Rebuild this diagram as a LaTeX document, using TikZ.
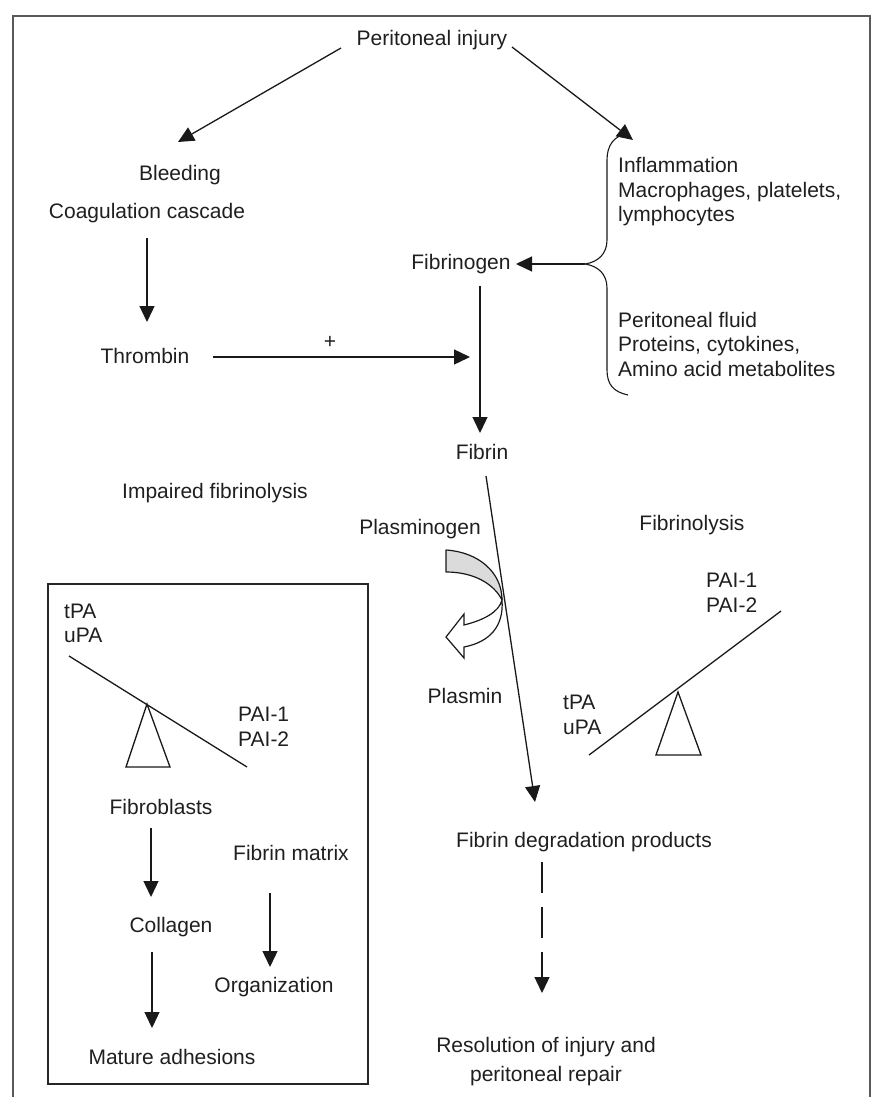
\documentclass[tikz,border=0pt]{standalone}
\usepackage{fontspec}
\setmainfont{Liberation Sans}
\usetikzlibrary{arrows.meta}
\begin{document}
\begin{tikzpicture}[x=1pt,y=-1pt,
  txt/.style={font=\fontsize{21}{24.5}\selectfont, text=black!88, inner sep=0pt},
  arr/.style={-{Triangle[length=16pt,width=15pt]}, line width=1.3pt, draw=black!90},
  thin line/.style={line width=1.3pt, draw=black!90},
  frame/.style={line width=1.6pt, draw=black!65}]
\useasboundingbox (0,0) rectangle (878,1097);
% outer frame (open at the bottom)
\draw[frame] (13,1097) -- (13,16) -- (870,16) -- (870,1097);
% left box
\draw[line width=1.2pt, draw=black!85] (48,584) rectangle (368,1084);

% ---- text nodes ----
\node[txt] (inj) at (432,40) {Peritoneal injury};
\node[txt] (bleed) at (180,175) {Bleeding};
\node[txt] (coag) at (147,213) {Coagulation cascade};
\node[txt] (thr) at (145,356) {Thrombin};
\node[txt] (plus) at (330,342) {+};
\node[txt] (fgen) at (461,264) {Fibrinogen};
\node[txt] (fib) at (482,452) {Fibrin};
\node[txt,anchor=west,align=left] (infl) at (618,192) {Inflammation\\Macrophages, platelets,\\lymphocytes};
\node[txt,anchor=west,align=left] (fluid) at (618,344) {Peritoneal fluid\\Proteins, cytokines,\\Amino acid metabolites};
\node[txt] (impf) at (215,493) {Impaired fibrinolysis};
\node[txt] (plg) at (420,529) {Plasminogen};
\node[txt] (plm) at (465,696) {Plasmin};
\node[txt] (fibl) at (692,525) {Fibrinolysis};
\node[txt,anchor=west,align=left] (rpai) at (706,593) {PAI-1\\PAI-2};
\node[txt,anchor=west,align=left] (rtpa) at (563,715) {tPA\\uPA};
\node[txt] (fdp) at (584,842) {Fibrin degradation products};
\node[txt,align=center,font=\fontsize{21}{29}\selectfont] (res) at (546,1062) {Resolution of injury and\\peritoneal repair};
\node[txt,anchor=west,align=left] (ltpa) at (64,623.5) {tPA\\uPA};
\node[txt,anchor=west,align=left] (lpai) at (238,727) {PAI-1\\PAI-2};
\node[txt] (fbl) at (161,807) {Fibroblasts};
\node[txt] (col) at (171,927) {Collagen};
\node[txt] (mat) at (172,1057) {Mature adhesions};
\node[txt] (fm) at (291,853) {Fibrin matrix};
\node[txt] (org) at (274,987) {Organization};

% ---- connector end points ----
\coordinate (injL) at (341,48);
\coordinate (injR) at (512,47);
\coordinate (bleedIn) at (178,142);
\coordinate (braceIn) at (633,140);
\coordinate (coagOut) at (147,238);
\coordinate (thrIn) at (147,322);
\coordinate (thrOut) at (213,357);
\coordinate (midIn) at (470,357);
\coordinate (fgenOut) at (480,286);
\coordinate (fibIn) at (480,433);
\coordinate (braceTip) at (585,264);
\coordinate (fgenIn) at (516,264);
\coordinate (fibOut) at (486,476);
\coordinate (fdpIn) at (535,802);
\coordinate (fdpOut) at (542,862);
\coordinate (resIn) at (542,993);
\coordinate (fblOut) at (151,828);
\coordinate (colIn) at (151,897);
\coordinate (colOut) at (152,952);
\coordinate (matIn) at (152,1028);
\coordinate (fmOut) at (270,893);
\coordinate (orgIn) at (270,967);

% ---- connectors ----
\draw[arr] (injL) -- (bleedIn);
\draw[arr] (injR) -- (braceIn);
\draw[arr] (coagOut) -- (thrIn);
\draw[arr] (thrOut) -- (midIn);
\draw[arr] (fgenOut) -- (fibIn);
\draw[arr] (braceTip) -- (fgenIn);
\draw[arr] (fibOut) -- (fdpIn);
\draw[arr, dash pattern=on 31pt off 14pt] (fdpOut) -- (resIn);
\draw[arr] (fblOut) -- (colIn);
\draw[arr] (colOut) -- (matIn);
\draw[arr] (fmOut) -- (orgIn);

% ---- brace ----
\draw[thin line, line width=1.1pt] (628,133) .. controls (614,136) and (607,145) .. (607,160)
  -- (607,240) .. controls (607,254) and (598,262) .. (braceTip)
  .. controls (598,266) and (607,274) .. (607,288)
  -- (607,370) .. controls (607,385) and (614,392) .. (628,395);

% ---- curved block arrow (plasminogen -> plasmin) ----
\filldraw[fill=gray!28, draw=black!90, line width=1.2pt, line join=round]
  (446,550) .. controls (478,552) and (502,572) .. (502,600)
  .. controls (494,584) and (474,572) .. (446,572) -- cycle;
\filldraw[fill=white, draw=black!90, line width=1.2pt, line join=miter]
  (502,600) .. controls (504,626) and (490,642) .. (464,647)
  -- (464,658) -- (446,637) -- (464,614) -- (464,625)
  .. controls (484,620) and (499,612) .. (502,600) -- cycle;

% ---- seesaws ----
\draw[thin line] (69,656) -- (247,767);
\draw[thin line, line join=miter] (147,704) -- (126,767) -- (170,767) -- cycle;
\draw[thin line] (589,755) -- (781,611);
\draw[thin line, line join=miter] (678,692) -- (656,755) -- (701,755) -- cycle;
\end{tikzpicture}
\end{document}
